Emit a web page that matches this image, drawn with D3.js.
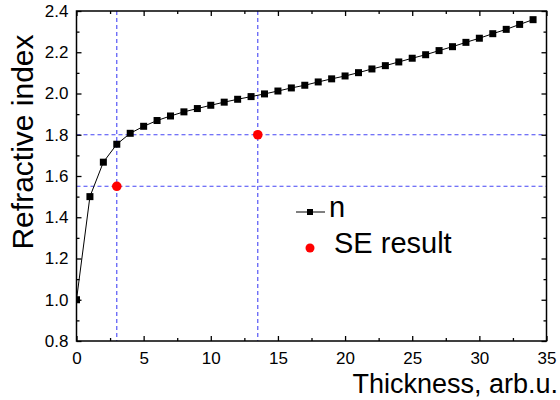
<!DOCTYPE html>
<html>
<head>
<meta charset="utf-8">
<script src="https://cdn.jsdelivr.net/npm/d3@7/dist/d3.min.js"></script>
<style>
  html, body { margin: 0; padding: 0; background: #fff; }
  svg { display: block; font-family: "Liberation Sans", Arial, sans-serif; }
</style>
</head>
<body>
<svg id="chart" width="560" height="400"></svg>
<script>
// Refractive index vs. film thickness
const thickness = [0, 1, 2, 3, 4, 5, 6, 7, 8, 9, 10, 11, 12, 13, 14, 15, 16, 17,
  18, 19, 20, 21, 22, 23, 24, 25, 26, 27, 28, 29, 30, 31, 32, 33, 34];
const nValues = [1.000, 1.500, 1.667, 1.754, 1.807, 1.841, 1.869, 1.891, 1.911,
  1.927, 1.943, 1.958, 1.972, 1.985, 1.998, 2.012, 2.027, 2.040, 2.056, 2.071,
  2.085, 2.101, 2.119, 2.135, 2.153, 2.171, 2.188, 2.208, 2.227, 2.248, 2.268,
  2.290, 2.311, 2.335, 2.358];

// Spectroscopic ellipsometry results
const seThickness = [3, 13.5];
const seIndex = [1.55, 1.8];

const xTicks = [0, 5, 10, 15, 20, 25, 30, 35];
const yTicks = [0.8, 1.0, 1.2, 1.4, 1.6, 1.8, 2.0, 2.2, 2.4];
const xMinor = [2.5, 7.5, 12.5, 17.5, 22.5, 27.5, 32.5];
const yMinor = [0.9, 1.1, 1.3, 1.5, 1.7, 1.9, 2.1, 2.3];

const svg = d3.select("#chart");
const plotLeft = 76.5, plotRight = 546.5, plotTop = 11, plotBottom = 341;

const x = d3.scaleLinear().domain([0, 35]).range([plotLeft, plotRight]);
const y = d3.scaleLinear().domain([0.8, 2.4]).range([plotBottom, plotTop]);

svg.append("defs").append("clipPath").attr("id", "plot-area")
  .append("rect").attr("x", plotLeft).attr("y", plotTop)
  .attr("width", plotRight - plotLeft).attr("height", plotBottom - plotTop);

// Guide lines through the SE results
const guides = svg.append("g").attr("stroke", "#4646f5")
  .attr("stroke-width", 1.1).attr("stroke-dasharray", "4,3");
guides.selectAll("line.v").data(seThickness).join("line").attr("class", "v")
  .attr("x1", d => x(d)).attr("x2", d => x(d))
  .attr("y1", plotTop).attr("y2", plotBottom);
guides.selectAll("line.h").data(seIndex).join("line").attr("class", "h")
  .attr("x1", plotLeft).attr("x2", plotRight)
  .attr("y1", d => y(d)).attr("y2", d => y(d));

// Model curve n(thickness)
const data = thickness.map((t, i) => ({ t, n: nValues[i] }));
const plot = svg.append("g").attr("clip-path", "url(#plot-area)");
plot.append("path").datum(data)
  .attr("fill", "none").attr("stroke", "#000").attr("stroke-width", 1)
  .attr("d", d3.line().x(d => x(d.t)).y(d => y(d.n)));
const sq = 7;
plot.selectAll("rect.m").data(data).join("rect").attr("class", "m")
  .attr("x", d => x(d.t) - sq / 2).attr("y", d => y(d.n) - sq / 2)
  .attr("width", sq).attr("height", sq).attr("fill", "#000");

// SE result points
svg.selectAll("circle.se").data(seThickness.map((t, i) => ({ t, n: seIndex[i] })))
  .join("circle").attr("class", "se")
  .attr("cx", d => x(d.t)).attr("cy", d => y(d.n)).attr("r", 4.8)
  .attr("fill", "#ff0000");

// Axes with inward ticks on all four sides
function styleAxis(g) {
  g.select(".domain").remove();
  g.selectAll(".tick line").attr("stroke", "#000").attr("stroke-width", 1.3);
  g.selectAll(".tick text").attr("font-size", 17).attr("fill", "#000")
    .attr("font-family", "'Liberation Sans', Arial, sans-serif");
}
svg.append("g").attr("transform", `translate(0,${plotBottom})`)
  .call(d3.axisBottom(x).tickValues(xTicks).tickFormat(d3.format("d"))
    .tickSizeInner(-5).tickSizeOuter(0).tickPadding(11))
  .call(styleAxis);
svg.append("g").attr("transform", `translate(0,${plotBottom})`)
  .call(d3.axisBottom(x).tickValues(xMinor).tickFormat("").tickSizeInner(-3).tickSizeOuter(0))
  .call(styleAxis);
svg.append("g").attr("transform", `translate(0,${plotTop})`)
  .call(d3.axisTop(x).tickValues(xTicks).tickFormat("").tickSizeInner(-5).tickSizeOuter(0))
  .call(styleAxis);
svg.append("g").attr("transform", `translate(0,${plotTop})`)
  .call(d3.axisTop(x).tickValues(xMinor).tickFormat("").tickSizeInner(-3).tickSizeOuter(0))
  .call(styleAxis);
svg.append("g").attr("transform", `translate(${plotLeft},0)`)
  .call(d3.axisLeft(y).tickValues(yTicks).tickFormat(d3.format(".1f"))
    .tickSizeInner(-5).tickSizeOuter(0).tickPadding(8))
  .call(styleAxis);
svg.append("g").attr("transform", `translate(${plotLeft},0)`)
  .call(d3.axisLeft(y).tickValues(yMinor).tickFormat("").tickSizeInner(-3).tickSizeOuter(0))
  .call(styleAxis);
svg.append("g").attr("transform", `translate(${plotRight},0)`)
  .call(d3.axisRight(y).tickValues(yTicks).tickFormat("").tickSizeInner(-5).tickSizeOuter(0))
  .call(styleAxis);
svg.append("g").attr("transform", `translate(${plotRight},0)`)
  .call(d3.axisRight(y).tickValues(yMinor).tickFormat("").tickSizeInner(-3).tickSizeOuter(0))
  .call(styleAxis);

// Frame
svg.append("rect").attr("x", plotLeft).attr("y", plotTop)
  .attr("width", plotRight - plotLeft).attr("height", plotBottom - plotTop)
  .attr("fill", "none").attr("stroke", "#000").attr("stroke-width", 1.5);

// Axis titles
svg.append("text").attr("x", 558).attr("y", 393)
  .attr("text-anchor", "end").attr("font-size", 27).attr("fill", "#000")
  .text("Thickness, arb.u.");
svg.append("text").attr("transform", "translate(33,142) rotate(-90)")
  .attr("text-anchor", "middle").attr("font-size", 30).attr("fill", "#000")
  .text("Refractive index");

// Legend
const legend = svg.append("g");
legend.append("line").attr("x1", 296).attr("x2", 325).attr("y1", 212).attr("y2", 212)
  .attr("stroke", "#000").attr("stroke-width", 1);
legend.append("rect").attr("x", 310 - 3).attr("y", 212 - 3).attr("width", 6).attr("height", 6)
  .attr("fill", "#000");
legend.append("text").attr("x", 329).attr("y", 217).attr("font-size", 29)
  .attr("fill", "#000").text("n");
legend.append("circle").attr("cx", 310).attr("cy", 248).attr("r", 4.5).attr("fill", "#ff0000");
legend.append("text").attr("x", 334).attr("y", 253).attr("font-size", 29)
  .attr("fill", "#000").text("SE result");
</script>
</body>
</html>
